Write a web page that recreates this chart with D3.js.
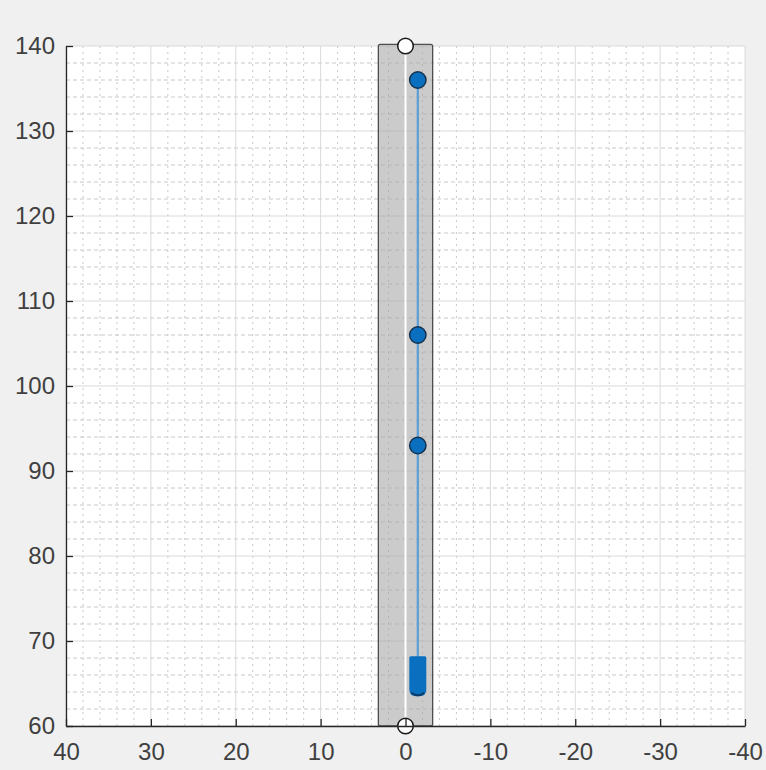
<!DOCTYPE html>
<html>
<head>
<meta charset="utf-8">
<script src="https://cdn.jsdelivr.net/npm/d3@7"></script>
<style>
  html, body { margin: 0; padding: 0; background: #f0f0f0; }
  svg { display: block; }
  text { font-family: "Liberation Sans", Arial, sans-serif; }
</style>
</head>
<body>
<svg id="chart" width="766" height="770"></svg>
<script>
// Axis extents and tick values
const xDomain = [40, -40];
const yDomain = [60, 140];
const xTicks = [40, 30, 20, 10, 0, -10, -20, -30, -40];
const yTicks = [60, 70, 80, 90, 100, 110, 120, 130, 140];

// Gray band (left/right x, bottom/top y) and its centre line
const bandX = [3.2, -3.2];
const bandY = [60, 140.2];
const centerX = [0, 0];
const endpointY = [140, 60];

// Blue track: line, markers and the dense segment near the bottom
const trackX = -1.45;
const trackLineY = [64, 136];
const markerY = [136, 106, 93];
const denseY = [63.5, 68.2];

const margin = { left: 66, right: 21, top: 46, bottom: 44 };
const W = 766, H = 770;
const svg = d3.select("#chart");

const x = d3.scaleLinear().domain(xDomain).range([margin.left, W - margin.right]);
const y = d3.scaleLinear().domain(yDomain).range([H - margin.bottom, margin.top]);

// plot background
svg.append("rect")
  .attr("x", x(xDomain[0])).attr("y", y(yDomain[1]))
  .attr("width", x(xDomain[1]) - x(xDomain[0]))
  .attr("height", y(yDomain[0]) - y(yDomain[1]))
  .attr("fill", "#ffffff");

// minor grid every 2 units
const minorX = d3.range(-40, 41, 2).filter(v => v % 10 !== 0);
const minorY = d3.range(60, 141, 2).filter(v => v % 10 !== 0);
const grid = svg.append("g");
grid.selectAll(".mx").data(minorX).join("line")
  .attr("x1", d => x(d)).attr("x2", d => x(d))
  .attr("y1", y(yDomain[0])).attr("y2", y(yDomain[1]))
  .attr("stroke", "#c8c8c8").attr("stroke-width", 1).attr("stroke-dasharray", "2,4");
grid.selectAll(".my").data(minorY).join("line")
  .attr("y1", d => y(d)).attr("y2", d => y(d))
  .attr("x1", x(xDomain[0])).attr("x2", x(xDomain[1]))
  .attr("stroke", "#c8c8c8").attr("stroke-width", 1).attr("stroke-dasharray", "4,3");
// major grid
grid.selectAll(".Mx").data(xTicks).join("line")
  .attr("x1", d => x(d)).attr("x2", d => x(d))
  .attr("y1", y(yDomain[0])).attr("y2", y(yDomain[1]))
  .attr("stroke", "#dadada").attr("stroke-width", 1);
grid.selectAll(".My").data(yTicks).join("line")
  .attr("y1", d => y(d)).attr("y2", d => y(d))
  .attr("x1", x(xDomain[0])).attr("x2", x(xDomain[1]))
  .attr("stroke", "#dadada").attr("stroke-width", 1);

// gray band (semi-transparent so the grid shows through)
svg.append("rect")
  .attr("x", x(bandX[0])).attr("y", y(bandY[1]))
  .attr("width", x(bandX[1]) - x(bandX[0]))
  .attr("height", y(bandY[0]) - y(bandY[1]))
  .attr("rx", 2)
  .attr("fill", "#a8a8a8").attr("fill-opacity", 0.6)
  .attr("stroke", "#4d4d4d").attr("stroke-width", 1.3);

// white centre line
svg.append("line")
  .attr("x1", x(centerX[0])).attr("x2", x(centerX[1]))
  .attr("y1", y(endpointY[0])).attr("y2", y(endpointY[1]))
  .attr("stroke", "#ffffff").attr("stroke-width", 2);

// blue track line
svg.append("line")
  .attr("x1", x(trackX)).attr("x2", x(trackX))
  .attr("y1", y(trackLineY[0])).attr("y2", y(trackLineY[1]))
  .attr("stroke", "#5b9fd6").attr("stroke-width", 2.2);

// dense segment
const segW = 17;
const sTop = y(denseY[1]), sBot = y(denseY[0]), cx = x(trackX);
const r = 7;
const p = d3.path();
p.moveTo(cx - segW / 2, sTop + 1.5);
p.quadraticCurveTo(cx - segW / 2, sTop, cx - segW / 2 + 1.5, sTop);
p.lineTo(cx + segW / 2 - 1.5, sTop);
p.quadraticCurveTo(cx + segW / 2, sTop, cx + segW / 2, sTop + 1.5);
p.lineTo(cx + segW / 2, sBot - r);
p.quadraticCurveTo(cx + segW / 2, sBot, cx + segW / 2 - r, sBot);
p.lineTo(cx - segW / 2 + r, sBot);
p.quadraticCurveTo(cx - segW / 2, sBot, cx - segW / 2, sBot - r);
p.closePath();
svg.append("path").attr("d", p.toString())
  .attr("fill", "#0a6fbf");
svg.append("path")
  .attr("d", `M${cx - segW / 2 + 2},${sBot - 3.5} Q${cx},${sBot + 1.5} ${cx + segW / 2 - 2},${sBot - 3.5}`)
  .attr("fill", "none").attr("stroke", "#0b3a66").attr("stroke-width", 1.8);

// blue markers
svg.selectAll(".mk").data(markerY).join("circle")
  .attr("cx", x(trackX)).attr("cy", d => y(d)).attr("r", 8.2)
  .attr("fill", "#0a6fbf").attr("stroke", "#14324f").attr("stroke-width", 1.5);

// white endpoint markers
svg.selectAll(".ep").data(endpointY).join("circle")
  .attr("cx", x(0)).attr("cy", d => y(d)).attr("r", 7.8)
  .attr("fill", "#ffffff").attr("stroke", "#1a1a1a").attr("stroke-width", 1.5);

// axes (left and bottom, ticks inward)
const axisColor = "#262626";
const xAxis = svg.append("g").attr("transform", `translate(0,${y(yDomain[0])})`)
  .call(d3.axisBottom(x).tickValues(xTicks).tickSize(-7).tickSizeOuter(0).tickPadding(17).tickFormat(d3.format("d")));
const yAxis = svg.append("g").attr("transform", `translate(${x(xDomain[0])},0)`)
  .call(d3.axisLeft(y).tickValues(yTicks).tickSize(-7).tickSizeOuter(0).tickPadding(11).tickFormat(d3.format("d")));
[xAxis, yAxis].forEach(g => {
  g.select(".domain").attr("stroke", axisColor).attr("stroke-width", 1.3);
  g.selectAll(".tick line").attr("stroke", axisColor).attr("stroke-width", 1.3);
  g.selectAll(".tick text").attr("fill", "#404040").style("font-size", "24px")
    .style("font-family", "'Liberation Sans', Arial, sans-serif");
});
// minus sign as plain hyphen
xAxis.selectAll(".tick text").text(d => String(d));
</script>
</body>
</html>
